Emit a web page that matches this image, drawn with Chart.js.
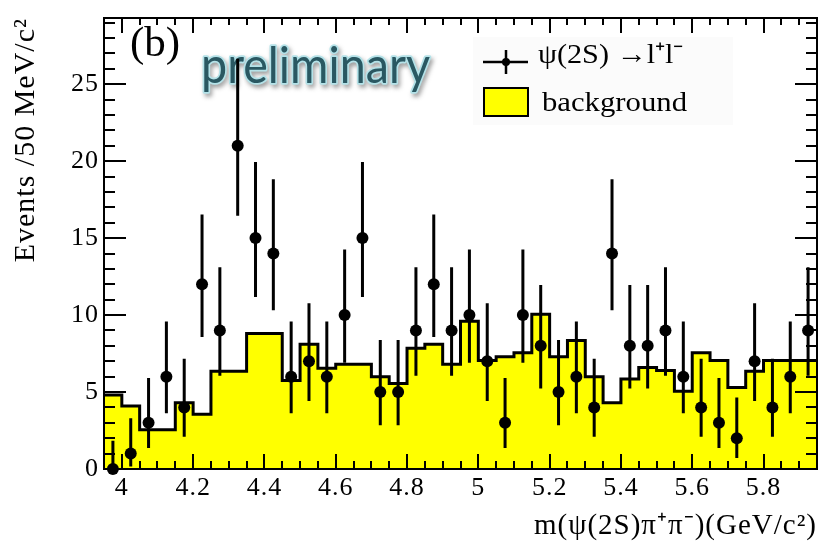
<!DOCTYPE html>
<html>
<head>
<meta charset="utf-8">
<script src="https://cdn.jsdelivr.net/npm/chart.js@4/dist/chart.umd.min.js"></script>
<style>
  html, body { margin: 0; padding: 0; background: #fff; }
  canvas { display: block; }
</style>
</head>
<body>
<canvas id="c" width="823" height="543"></canvas>
<script>
// Bin centres of m(psi(2S) pi+ pi-) in GeV/c^2 (50 MeV bins)
const massCenters = [3.975, 4.025, 4.075, 4.125, 4.175, 4.225, 4.275, 4.325, 4.375, 4.425,
                     4.475, 4.525, 4.575, 4.625, 4.675, 4.725, 4.775, 4.825, 4.875, 4.925,
                     4.975, 5.025, 5.075, 5.125, 5.175, 5.225, 5.275, 5.325, 5.375, 5.425,
                     5.475, 5.525, 5.575, 5.625, 5.675, 5.725, 5.775, 5.825, 5.875, 5.925];
const binWidth = 0.05;

// Observed events per bin, psi(2S) -> l+ l-
const signalCounts = [0, 1, 3, 6, 4, 12, 9, 21, 15, 14,
                      6, 7, 6, 10, 15, 5, 5, 9, 12, 9,
                      10, 7, 3, 10, 8, 5, 6, 4, 14, 8,
                      8, 9, 6, 4, 3, 2, 7, 4, 6, 9];
// Asymmetric (Poisson) uncertainties, lower and upper
const errLow  = [0.00, 0.83, 1.63, 2.38, 1.91, 3.42, 2.94, 4.54, 3.83, 3.69,
                 2.38, 2.58, 2.38, 3.10, 3.83, 2.16, 2.16, 2.94, 3.42, 2.94,
                 3.10, 2.58, 1.63, 3.10, 2.77, 2.16, 2.38, 1.91, 3.69, 2.77,
                 2.77, 2.94, 2.38, 1.91, 1.63, 1.29, 2.58, 1.91, 2.38, 2.94];
const errHigh = [1.84, 2.30, 2.92, 3.58, 3.16, 4.54, 4.11, 5.65, 4.95, 4.83,
                 3.58, 3.77, 3.58, 4.26, 4.95, 3.38, 3.38, 4.11, 4.54, 4.11,
                 4.26, 3.77, 2.92, 4.26, 3.95, 3.38, 3.58, 3.16, 4.83, 3.95,
                 3.95, 4.11, 3.58, 3.16, 2.92, 2.64, 3.77, 3.16, 3.58, 4.11];

// Estimated background per bin
const background = [4.80, 4.10, 2.55, 2.55, 4.30, 3.55, 6.35, 6.35, 8.80, 8.80,
                    5.75, 8.10, 6.55, 6.80, 6.80, 6.00, 5.55, 7.85, 8.10, 6.80,
                    9.60, 7.05, 7.30, 7.55, 10.05, 7.30, 8.35, 6.00, 4.30, 5.85,
                    6.60, 6.40, 5.05, 7.55, 7.05, 5.30, 6.35, 7.05, 7.05, 7.05];

// Axis ticks and labels
const xTickValues = [4.0, 4.2, 4.4, 4.6, 4.8, 5.0, 5.2, 5.4, 5.6, 5.8];
const xTickLabels = ['4', '4.2', '4.4', '4.6', '4.8', '5', '5.2', '5.4', '5.6', '5.8'];
const yTickValues = [0, 5, 10, 15, 20, 25];
const yTickLabels = ['0', '5', '10', '15', '20', '25'];
const xRange = [3.95, 5.95];
const yRange = [0, 29.3];
const xMinorStep = 0.05;
const yMinorStep = 1;

const signalLabel = 'ψ(2S) →l⁺l⁻';
const backgroundLabel = 'background';
const xTitle = 'm(ψ(2S)π⁺π⁻)(GeV/c²)';
const yTitle = 'Events /50 MeV/c²';
const panelTag = '(b)';
const stampText = 'preliminary';

const SERIF = '"Liberation Serif", "Times New Roman", serif';

// Step outline: one point on each lower bin edge, plus the last upper edge
const bgStepPoints = massCenters.map((m, i) => ({ x: m - binWidth / 2, y: background[i] }));
bgStepPoints.push({ x: massCenters[massCenters.length - 1] + binWidth / 2, y: background[background.length - 1] });

const signalPoints = massCenters.map((m, i) => ({ x: m, y: signalCounts[i] }));

// Slightly looser letter spacing for the axis text (wide Times-style face)
const textSpacing = {
  id: 'textSpacing',
  beforeDraw(chart) { chart.ctx.letterSpacing = '1px'; },
  afterDraw(chart) { chart.ctx.letterSpacing = '0px'; }
};

// "preliminary" stamp and panel tag, drawn beneath the data
const annotations = {
  id: 'annotations',
  beforeDatasetsDraw(chart) {
    const ctx = chart.ctx;
    ctx.save();
    ctx.letterSpacing = '0px';
    // panel tag
    ctx.fillStyle = '#000';
    ctx.font = '43px ' + SERIF;
    ctx.textBaseline = 'alphabetic';
    ctx.fillText(panelTag, 130, 56);

    // glowing stamp
    ctx.font = '50px Lato, "Open Sans", sans-serif';
    const w = ctx.measureText(stampText).width;
    const sx = 229 / w;
    ctx.translate(201, 83);
    ctx.scale(sx, 1);
    ctx.lineJoin = 'round';
    ctx.shadowColor = 'rgba(60,60,60,0.5)';
    ctx.shadowBlur = 4;
    ctx.shadowOffsetX = 2;
    ctx.shadowOffsetY = 3;
    ctx.strokeStyle = '#b4e2e8';
    ctx.lineWidth = 3.5;
    ctx.strokeText(stampText, 0, 0);
    ctx.shadowColor = 'transparent';
    ctx.fillStyle = '#2a5862';
    ctx.fillText(stampText, 0, 0);
    ctx.restore();
  }
};

// Error bars, frame, inner ticks and legend
const overlays = {
  id: 'overlays',
  afterDatasetsDraw(chart) {
    const { ctx, chartArea: a, scales: { x, y } } = chart;
    ctx.save();
    ctx.letterSpacing = '0px';

    // vertical error bars
    ctx.strokeStyle = '#000';
    ctx.lineWidth = 3;
    ctx.beginPath();
    signalCounts.forEach((n, i) => {
      const px = x.getPixelForValue(massCenters[i]);
      ctx.moveTo(px, y.getPixelForValue(n - errLow[i]));
      ctx.lineTo(px, y.getPixelForValue(n + errHigh[i]));
    });
    ctx.stroke();

    // ticks pointing into the frame on all four sides
    ctx.lineWidth = 2;
    ctx.beginPath();
    const nx = Math.round((xRange[1] - xRange[0]) / xMinorStep);
    for (let k = 1; k < nx; k++) {
      const v = xRange[0] + k * xMinorStep;
      const major = xTickValues.some(t => Math.abs(t - v) < 1e-6);
      const px = Math.round(x.getPixelForValue(v));
      ctx.moveTo(px, a.bottom); ctx.lineTo(px, a.bottom - (major ? 15 : 8));
      ctx.moveTo(px, a.top);    ctx.lineTo(px, a.top + (major ? 15 : 7));
    }
    for (let v = yMinorStep; v < yRange[1]; v += yMinorStep) {
      const major = yTickValues.includes(v);
      const py = Math.round(y.getPixelForValue(v));
      const len = major ? 22 : 11;
      ctx.moveTo(a.left, py);  ctx.lineTo(a.left + len, py);
      ctx.moveTo(a.right, py); ctx.lineTo(a.right - len, py);
    }
    ctx.stroke();
    ctx.strokeRect(a.left, a.top, a.right - a.left, a.bottom - a.top);

    // legend
    ctx.fillStyle = '#fbfbfb';
    ctx.fillRect(473, 37, 260, 88);
    // data entry: line + error bar + marker
    ctx.strokeStyle = '#000';
    ctx.lineWidth = 2.5;
    ctx.beginPath();
    ctx.moveTo(483, 62); ctx.lineTo(528, 62);
    ctx.moveTo(506, 50); ctx.lineTo(506, 74);
    ctx.stroke();
    ctx.fillStyle = '#000';
    ctx.beginPath(); ctx.arc(506, 62, 4, 0, Math.PI * 2); ctx.fill();
    // background entry: filled box
    ctx.fillStyle = '#ffff00';
    ctx.fillRect(484, 88, 44, 28);
    ctx.lineWidth = 2;
    ctx.strokeRect(484, 88, 44, 28);

    ctx.fillStyle = '#000';
    ctx.font = '28px ' + SERIF;
    const drawFit = (txt, x0, base, target) => {
      const w = ctx.measureText(txt).width;
      ctx.save();
      ctx.translate(x0, base);
      ctx.scale(target / w, 1);
      ctx.fillText(txt, 0, 0);
      ctx.restore();
    };
    drawFit(signalLabel, 538, 63, 145);
    drawFit(backgroundLabel, 542, 111, 145);

    ctx.restore();
  }
};

new Chart(document.getElementById('c'), {
  data: {
    datasets: [
      {
        type: 'scatter',
        label: signalLabel,
        data: signalPoints,
        pointRadius: 6,
        pointHoverRadius: 6,
        pointBackgroundColor: '#000',
        pointBorderColor: '#000',
        pointBorderWidth: 0,
        clip: false,
        order: 1
      },
      {
        type: 'line',
        label: backgroundLabel,
        data: bgStepPoints,
        stepped: 'before',
        fill: 'origin',
        backgroundColor: '#ffff00',
        borderColor: '#000',
        borderWidth: 3,
        pointRadius: 0,
        order: 2
      }
    ]
  },
  options: {
    responsive: false,
    animation: false,
    events: [],
    layout: { padding: { top: 8, right: 3, left: 0, bottom: 0 } },
    plugins: { legend: { display: false }, tooltip: { enabled: false } },
    scales: {
      x: {
        type: 'linear',
        min: xRange[0],
        max: xRange[1],
        afterBuildTicks: (s) => { s.ticks = xTickValues.map(v => ({ value: v })); },
        afterFit: (s) => { s.height = 74; },
        grid: { display: false, drawTicks: false },
        border: { display: false },
        ticks: {
          autoSkip: false, maxRotation: 0,
          color: '#000',
          font: { family: SERIF, size: 26, lineHeight: 1 },
          padding: 6,
          callback: (v, i) => xTickLabels[i]
        },
        title: {
          display: true, text: xTitle, align: 'end', color: '#000',
          font: { family: SERIF, size: 29, lineHeight: 1 },
          padding: { top: 0, bottom: 2 }
        }
      },
      y: {
        type: 'linear',
        min: yRange[0],
        max: yRange[1],
        afterBuildTicks: (s) => { s.ticks = yTickValues.map(v => ({ value: v })); },
        afterFit: (s) => { s.width = 104; },
        grid: { display: false, drawTicks: false },
        border: { display: false },
        ticks: {
          color: '#000',
          font: { family: SERIF, size: 26, lineHeight: 1 },
          padding: 5,
          callback: (v, i) => yTickLabels[i]
        },
        title: {
          display: true, text: yTitle, align: 'end', color: '#000',
          font: { family: SERIF, size: 30, lineHeight: 1 },
          padding: { top: 11, bottom: 0 }
        }
      }
    }
  },
  plugins: [textSpacing, annotations, overlays]
});
</script>
</body>
</html>
